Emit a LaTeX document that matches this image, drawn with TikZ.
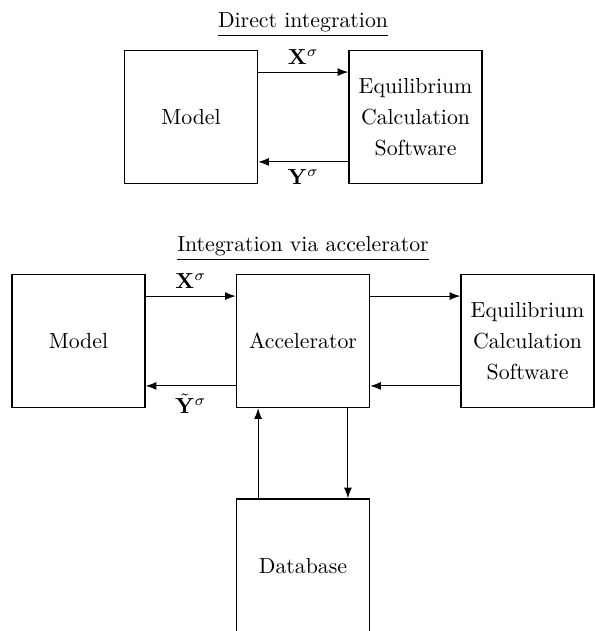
\documentclass[tikz,border=0pt]{standalone}
\usepackage{amsmath}
\usepackage{amsfonts}
\usepackage{amssymb}
\usetikzlibrary{arrows, arrows.meta, positioning}

\def\off{20.6pt}

\begin{document}
\begin{tikzpicture}[x=0.4587pt,y=-0.4587pt,>={Latex},auto,node distance=103pt,
  block/.style={draw,thick,minimum width=61pt,minimum height=61pt,align=center,
    font=\fontsize{10pt}{14.2pt}\selectfont}]

	      \useasboundingbox (0,0) rectangle (594,631);

	      % direct integration
	      \node[anchor=base] (title1) at (303,28) {\underline{Direct integration}};
	      \node[block] (model1) at (191,117) {Model};
	      \node[block] (ecs1) [right of=model1] {Equilibrium\\Calculation\\Software};

	      \path[->]
	      ([yshift=\off]model1.east) edge node[above] {$\mathbf{X}^\sigma$} ([yshift=\off]ecs1.west)
	      ([yshift=-\off]ecs1.west) edge node[below] {$\mathbf{Y}^\sigma$} ([yshift=-\off]model1.east)
	      ;

	      % integration via accelerator
	      \node[anchor=base] (title2) at (303,252) {\underline{Integration via accelerator}};
	      \node[block] (acc) at (303,341) {Accelerator};
	      \node[block] (model2) [left of=acc] {Model};
	      \node[block] (ecs2) [right of=acc] {Equilibrium\\Calculation\\Software};
	      \node[block] (db) [below of=acc] {Database};

	      \path[->]
	      ([yshift=\off]model2.east) edge node[above] {$\mathbf{X}^\sigma$} ([yshift=\off]acc.west)
	      ([yshift=-\off]acc.west) edge node[below] {$\tilde{\mathbf{Y}}^\sigma$} ([yshift=-\off]model2.east)

	      ([yshift=\off]acc.east) edge ([yshift=\off]ecs2.west)
	      ([yshift=-\off]ecs2.west) edge ([yshift=-\off]acc.east)

	      ([xshift=-\off]db.north) edge ([xshift=-\off]acc.south)
	      ([xshift=\off]acc.south) edge ([xshift=\off]db.north)
	      ;
\end{tikzpicture}
\end{document}
